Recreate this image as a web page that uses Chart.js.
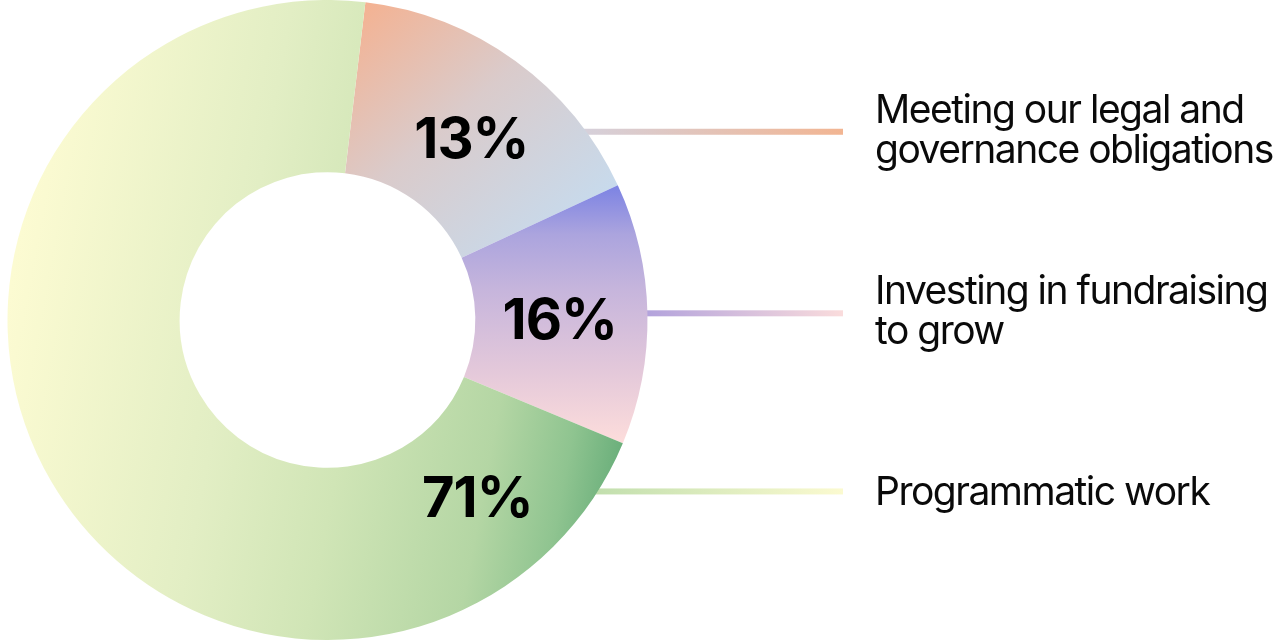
<!DOCTYPE html>
<html>
<head>
<meta charset="utf-8">
<script src="https://cdn.jsdelivr.net/npm/chart.js@4.4.1/dist/chart.umd.min.js"></script>
<style>
  html, body { margin: 0; padding: 0; background: #fff; }
  #wrap { position: relative; width: 1280px; height: 640px; }
</style>
</head>
<body>
<div id="wrap"><canvas id="budgetChart"></canvas></div>
<script>
const categories = [
  "Meeting our legal and governance obligations",
  "Investing in fundraising to grow",
  "Programmatic work"
];
const categoryLines = [
  ["Meeting our legal and", "governance obligations"],
  ["Investing in fundraising", "to grow"],
  ["Programmatic work"]
];
// arc sizes as they are drawn in the picture (printed labels below)
const sliceShares = [16.2, 13.2, 70.6];
const percentLabels = ["13%", "16%", "71%"];

const lineColors = [
  ["#d6d0da", "#f2b592"],
  ["#b3a3dc", "#fadcdc"],
  ["#c2dfae", "#fbfad0"]
];

function ringGeometry(chart) {
  const a = chart.chartArea;
  return {
    cx: (a.left + a.right) / 2,
    cy: (a.top + a.bottom) / 2,
    r: Math.min(a.right - a.left, a.bottom - a.top) / 2
  };
}

function sliceFill(context) {
  const chart = context.chart;
  if (!chart.chartArea) return "#ddd";
  const ctx = chart.ctx;
  const { cx, cy, r } = ringGeometry(chart);
  let g;
  if (context.dataIndex === 0) {
    g = ctx.createLinearGradient(cx + 0.07 * r, cy - 0.95 * r, cx + 0.73 * r, cy - 0.19 * r);
    g.addColorStop(0, "#f4b292");
    g.addColorStop(0.45, "#dacbcb");
    g.addColorStop(1, "#c5dcf0");
  } else if (context.dataIndex === 1) {
    g = ctx.createLinearGradient(0, cy - 0.41 * r, 0, cy + 0.375 * r);
    g.addColorStop(0, "#7f85e3");
    g.addColorStop(0.18, "#aba4de");
    g.addColorStop(0.4, "#c6b5dc");
    g.addColorStop(0.72, "#e3c8da");
    g.addColorStop(1, "#fcdcdb");
  } else {
    g = ctx.createLinearGradient(cx - r, cy - 0.06 * r, cx + 0.98 * r, cy + 0.31 * r);
    g.addColorStop(0, "#fcfbd2");
    g.addColorStop(0.35, "#e2eec4");
    g.addColorStop(0.55, "#d0e5b6");
    g.addColorStop(0.78, "#b4d6a4");
    g.addColorStop(0.9, "#8fc490");
    g.addColorStop(1, "#62aa76");
  }
  return g;
}

function labelPoint(arc, frac) {
  const p = arc.getProps(["x", "y", "startAngle", "endAngle", "innerRadius", "outerRadius"]);
  const ang = p.startAngle + frac * (p.endAngle - p.startAngle);
  const rr = p.innerRadius + 0.49 * (p.outerRadius - p.innerRadius);
  return { x: p.x + Math.cos(ang) * rr, y: p.y + Math.sin(ang) * rr, arc: p };
}

const calloutPlugin = {
  id: "callouts",
  beforeDatasetsDraw(chart, args, opts) {
    const ctx = chart.ctx;
    const meta = chart.getDatasetMeta(0);
    meta.data.forEach((arc, i) => {
      const pt = labelPoint(arc, opts.anchor[i]);
      const lineY = pt.y - 6;
      const dy = lineY - pt.arc.y;
      const edgeX = pt.arc.x + Math.sqrt(Math.max(pt.arc.outerRadius ** 2 - dy * dy, 0));
      const g = ctx.createLinearGradient(edgeX, 0, opts.lineEnd, 0);
      g.addColorStop(0, lineColors[i][0]);
      g.addColorStop(1, lineColors[i][1]);
      ctx.save();
      ctx.fillStyle = g;
      ctx.fillRect(edgeX - 20, lineY - 3, opts.lineEnd - edgeX + 20, 6);
      ctx.restore();
    });
  },
  afterDatasetsDraw(chart, args, opts) {
    const ctx = chart.ctx;
    const meta = chart.getDatasetMeta(0);
    meta.data.forEach((arc, i) => {
      const pt = labelPoint(arc, opts.anchor[i]);
      ctx.save();
      ctx.fillStyle = "#000";
      ctx.textAlign = "center";
      ctx.textBaseline = "alphabetic";
      ctx.font = "700 56px Inter";
      ctx.letterSpacing = "-1px";
      ctx.fillText(percentLabels[i], pt.x, pt.y + 20);

      const lineY = pt.y - 6;
      const lines = categoryLines[i];
      ctx.textAlign = "left";
      ctx.font = "400 39px Inter";
      ctx.letterSpacing = "-1.5px";
      ctx.fillStyle = "#0a0a0a";
      const base = lines.length > 1 ? lineY - 9 : lineY + 14;
      lines.forEach((t, k) => ctx.fillText(t, opts.textX, base + k * 40));
      ctx.restore();
    });
  }
};

new Chart(document.getElementById("budgetChart"), {
  type: "doughnut",
  data: {
    labels: categories,
    datasets: [
      {
        data: sliceShares,
        backgroundColor: sliceFill,
        borderWidth: 0,
        hoverOffset: 0
      }
    ]
  },
  options: {
    responsive: true,
    maintainAspectRatio: false,
    animation: false,
    rotation: 6.8,
    cutout: "46.2%",
    layout: { padding: { left: 0, top: 0, bottom: 0, right: 625 } },
    plugins: {
      legend: { display: false },
      tooltip: { enabled: false },
      callouts: { anchor: [0.54, 0.52, 0.107], lineEnd: 843, textX: 875 }
    }
  },
  plugins: [calloutPlugin]
});
</script>
</body>
</html>
